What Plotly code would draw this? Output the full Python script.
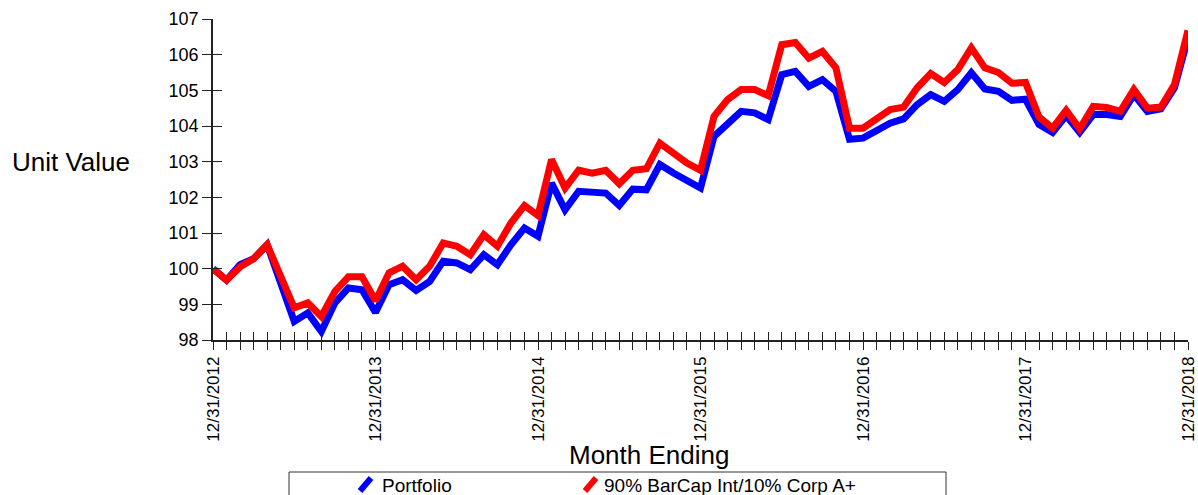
import pandas as pd
import plotly.graph_objects as go

# Month-end dates, 12/31/2012 through 12/31/2018
months = pd.date_range("2012-12-31", periods=73, freq="ME").strftime("%m/%d/%Y").tolist()

# Unit values (start = 100)
portfolio = [100.00, 99.68, 100.11, 100.28, 100.67, 99.64, 98.52, 98.76, 98.24, 99.04, 99.46, 99.41, 98.77,
             99.55, 99.69, 99.39, 99.64, 100.21, 100.16, 99.97, 100.39, 100.11, 100.67, 101.14, 100.91,
             102.40, 101.65, 102.17, 102.14, 102.12, 101.77, 102.23, 102.21, 102.92, 102.68, 102.45, 102.26,
             103.71, 104.08, 104.41, 104.37, 104.18, 105.44, 105.53, 105.11, 105.30, 104.97, 103.63, 103.66,
             103.85, 104.08, 104.20, 104.60, 104.88, 104.69, 105.02, 105.49, 105.04, 104.97, 104.72, 104.75,
             104.04, 103.82, 104.29, 103.82, 104.32, 104.32, 104.27, 104.88, 104.41, 104.48, 105.07, 106.47]

benchmark = [100.00, 99.68, 100.05, 100.28, 100.67, 99.78, 98.90, 99.04, 98.66, 99.36, 99.77, 99.77, 99.10,
             99.88, 100.07, 99.69, 100.07, 100.72, 100.63, 100.39, 100.95, 100.63, 101.28, 101.77, 101.49,
             103.06, 102.26, 102.76, 102.68, 102.76, 102.38, 102.76, 102.80, 103.52, 103.24, 102.96, 102.76,
             104.27, 104.74, 105.02, 105.02, 104.85, 106.28, 106.34, 105.90, 106.09, 105.63, 103.94, 103.94,
             104.18, 104.46, 104.53, 105.07, 105.47, 105.22, 105.58, 106.19, 105.63, 105.50, 105.20, 105.22,
             104.25, 103.94, 104.44, 103.92, 104.55, 104.52, 104.41, 105.02, 104.50, 104.53, 105.16, 106.68]

series_names = ["Portfolio", "90% BarCap Int/10% Corp A+"]
series_colors = ["#0000FF", "#FF0000"]

y_ticks = list(range(98, 108))
x_ticktext = [m if i % 12 == 0 else "" for i, m in enumerate(months)]

W, H = 1198, 495
L, R, T, B = 213, 10, 19, 155
PW, PH = W - L - R, H - T - B


def px_x(px):
    return (px - L) / PW


def px_y(py):
    return (H - B - py) / PH


FONT = "Liberation Sans, Arial, sans-serif"
AXIS_COLOR = "#222222"

fig = go.Figure()
# empty trace so the companion (crossing-tick) axes get rendered
fig.add_trace(go.Scatter(x=[], y=[], xaxis="x2", yaxis="y2", showlegend=False, hoverinfo="skip"))
for vals, name, color in zip([portfolio, benchmark], series_names, series_colors):
    fig.add_trace(go.Scatter(x=months, y=vals, mode="lines", name=name,
                             line=dict(color=color, width=7), showlegend=False))

fig.update_layout(
    width=W, height=H,
    margin=dict(l=L, r=R, t=T, b=B, autoexpand=False),
    paper_bgcolor="white", plot_bgcolor="white",
    font=dict(family=FONT, color="black"),
    xaxis=dict(type="category", range=[0, len(months) - 1], tickmode="array",
               tickvals=months, ticktext=x_ticktext, tickangle=-90,
               ticks="outside", ticklen=8, tickcolor=AXIS_COLOR, tickwidth=1,
               showline=True, linecolor=AXIS_COLOR, linewidth=1.5,
               showgrid=False, zeroline=False, tickfont=dict(size=17)),
    yaxis=dict(range=[98, 107], tickmode="array", tickvals=y_ticks,
               ticks="outside", ticklen=9, tickcolor=AXIS_COLOR, tickwidth=1,
               showline=True, linecolor=AXIS_COLOR, linewidth=1.5,
               showgrid=False, zeroline=False, tickfont=dict(size=18)),
    # companion axes supplying the inner half of each crossing tick
    xaxis2=dict(overlaying="x", anchor="y2", range=[0, len(months) - 1],
                tickmode="array", tickvals=list(range(len(months))),
                ticks="inside", ticklen=8, tickcolor=AXIS_COLOR, tickwidth=1,
                showticklabels=False, showline=False, showgrid=False, zeroline=False),
    yaxis2=dict(overlaying="y", anchor="x2", range=[98, 107], tickmode="array",
                tickvals=y_ticks, ticks="inside", ticklen=9, tickcolor=AXIS_COLOR, tickwidth=1,
                showticklabels=False, showline=False, showgrid=False, zeroline=False),
)

# Axis titles
fig.add_annotation(text="Unit Value", xref="paper", yref="paper", x=px_x(71), y=px_y(162),
                   xanchor="center", yanchor="middle", showarrow=False, font=dict(size=26))
fig.add_annotation(text="Month Ending", xref="paper", yref="paper", x=px_x(649), y=px_y(455),
                   xanchor="center", yanchor="middle", showarrow=False, font=dict(size=26))

# Legend box with slanted swatches
fig.add_shape(type="rect", xref="paper", yref="paper", x0=px_x(289), x1=px_x(946),
              y0=px_y(472), y1=px_y(520), line=dict(color="#333333", width=1), layer="above")
legend_items = [(360, 380, series_names[0], series_colors[0]),
                (585, 602, series_names[1], series_colors[1])]
for sx, tx, name, color in legend_items:
    fig.add_shape(type="line", xref="paper", yref="paper",
                  x0=px_x(sx), y0=px_y(491), x1=px_x(sx + 11), y1=px_y(478),
                  line=dict(color=color, width=6))
    fig.add_annotation(text=name, xref="paper", yref="paper", x=px_x(tx), y=px_y(485),
                       xanchor="left", yanchor="middle", showarrow=False, font=dict(size=19))

fig.write_html("out.html")
